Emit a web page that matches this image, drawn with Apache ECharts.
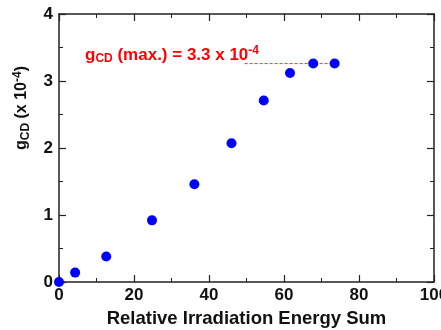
<!DOCTYPE html>
<html><head><meta charset="utf-8">
<script src="https://cdn.jsdelivr.net/npm/echarts@6/dist/echarts.min.js"></script>
<style>html,body{margin:0;padding:0;background:#fff}#c{width:441px;height:330px}</style>
</head><body><div id="c"></div>
<script>
var energySum = [0, 4.3, 12.6, 24.8, 36.1, 46.0, 54.6, 61.6, 67.8, 73.5];
var gCD = [0, 0.14, 0.38, 0.92, 1.46, 2.07, 2.71, 3.12, 3.26, 3.26];
var maxLineX = [49.5, 73.5];
var maxLineY = [3.26, 3.26];
var xTicks = [0, 20, 40, 60, 80, 100];
var yTicks = [0, 1, 2, 3, 4];

var font = 'Liberation Sans, Arial, sans-serif';
var chart = echarts.init(document.getElementById('c'), null, {renderer: 'canvas'});
function axisCommon() {
  return {
    axisLine: {show: true, onZero: false, lineStyle: {color: '#222', width: 1.5}},
    axisTick: {show: true, inside: true, length: 7, lineStyle: {color: '#222', width: 1.2}},
    minorTick: {show: true, splitNumber: 2, length: 4, lineStyle: {color: '#222', width: 1}},
    splitLine: {show: false}
  };
}
var red = '#ff0000';
chart.setOption({
  animation: false,
  grid: {left: 59, right: 7, top: 14, bottom: 48, containLabel: false, outerBoundsMode: 'none'},
  graphic: [
    {
      type: 'text', x: 85, y: 45, z: 10,
      style: {
        text: '{r|g}{s|CD}{r| (max.) = 3.3 x 10}{p|-4}',
        rich: {
          r: {fontFamily: font, fontWeight: 'bold', fontSize: 17, fill: red, color: red},
          s: {fontFamily: font, fontWeight: 'bold', fontSize: 12, fill: red, color: red, padding: [7, 0, 0, 0]},
          p: {fontFamily: font, fontWeight: 'bold', fontSize: 12, fill: red, color: red, padding: [0, 0, 9, 0]}
        }
      }
    },
    {
      type: 'text', x: 22, y: 108, rotation: Math.PI / 2, z: 10,
      style: {
        text: '{r|g}{s|CD}{r| (x 10}{p|-4}{r|)}',
        align: 'center', verticalAlign: 'middle',
        rich: {
          r: {fontFamily: font, fontWeight: 'bold', fontSize: 16, fill: '#111', color: '#111'},
          s: {fontFamily: font, fontWeight: 'bold', fontSize: 12, fill: '#111', color: '#111', padding: [7, 0, 0, 0]},
          p: {fontFamily: font, fontWeight: 'bold', fontSize: 12, fill: '#111', color: '#111', padding: [0, 0, 8, 0]}
        }
      }
    }
  ],
  xAxis: [
    Object.assign(axisCommon(), {
      type: 'value', min: 0, max: 100, interval: 20,
      name: 'Relative Irradiation Energy Sum', nameLocation: 'middle', nameGap: 27,
      nameTextStyle: {fontFamily: font, fontWeight: 'bold', fontSize: 18.5, color: '#111'},
      axisLabel: {fontFamily: font, fontWeight: 'bold', fontSize: 17, color: '#111', margin: 5,
        formatter: function (v) { return xTicks.indexOf(v) >= 0 ? String(v) : ''; }}
    }),
    Object.assign(axisCommon(), {
      type: 'value', min: 0, max: 100, interval: 20, position: 'top',
      axisLabel: {show: false}
    })
  ],
  yAxis: [
    Object.assign(axisCommon(), {
      type: 'value', min: 0, max: 4, interval: 1,
      axisLabel: {fontFamily: font, fontWeight: 'bold', fontSize: 17, color: '#111', margin: 6,
        formatter: function (v) { return yTicks.indexOf(v) >= 0 ? String(v) : ''; }}
    }),
    Object.assign(axisCommon(), {
      type: 'value', min: 0, max: 4, interval: 1, position: 'right',
      axisLabel: {show: false}
    })
  ],
  series: [
    {
      type: 'line', xAxisIndex: 0, yAxisIndex: 0,
      data: maxLineX.map(function (x, i) { return [x, maxLineY[i]]; }),
      symbol: 'none', lineStyle: {color: '#ff3030', width: 1, type: [3, 2]}, z: 1
    },
    {
      type: 'scatter', xAxisIndex: 0, yAxisIndex: 0,
      data: energySum.map(function (x, i) { return [x, gCD[i]]; }),
      symbolSize: 10, itemStyle: {color: '#0000ff', opacity: 1}, clip: false, z: 3
    }
  ]
});
</script></body></html>
